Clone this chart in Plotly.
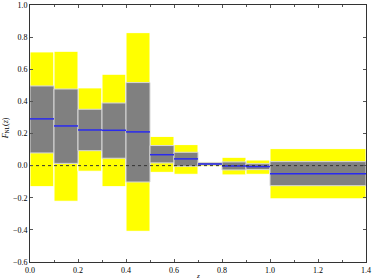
import plotly.graph_objects as go

bin_lo = [0.0, 0.1, 0.2, 0.3, 0.4, 0.5, 0.6, 0.7, 0.8, 0.9, 1.0]
bin_hi = [0.1, 0.2, 0.3, 0.4, 0.5, 0.6, 0.7, 0.8, 0.9, 1.0, 1.4]
outer_hi = [0.708, 0.712, 0.484, 0.569, 0.828, 0.182, 0.131, 0.025, 0.052, 0.035, 0.106]
inner_hi = [0.496, 0.477, 0.351, 0.390, 0.517, 0.125, 0.083, 0.019, 0.023, 0.012, 0.025]
median = [0.291, 0.247, 0.222, 0.220, 0.210, 0.068, 0.042, 0.010, -0.002, -0.006, -0.050]
inner_lo = [0.079, 0.014, 0.093, 0.046, -0.102, 0.017, -0.004, 0.004, -0.027, -0.025, -0.125]
outer_lo = [-0.131, -0.222, -0.035, -0.131, -0.409, -0.042, -0.054, -0.004, -0.058, -0.054, -0.207]

centers = [(a + b) / 2 for a, b in zip(bin_lo, bin_hi)]
widths = [b - a for a, b in zip(bin_lo, bin_hi)]

FONT = "Liberation Serif"
TXT = "#000000"

fig = go.Figure()
fig.add_trace(go.Bar(
    x=centers, y=[h - l for h, l in zip(outer_hi, outer_lo)], base=outer_lo,
    width=widths, marker=dict(color="#ffff00", line=dict(color="#ffffff", width=1)),
    hoverinfo="skip"))
fig.add_trace(go.Bar(
    x=centers, y=[h - l for h, l in zip(inner_hi, inner_lo)], base=inner_lo,
    width=widths, marker=dict(color="#808080", line=dict(color="#d8d8d8", width=1)),
    hoverinfo="skip"))

mx, my = [], []
for a, b, m in zip(bin_lo, bin_hi, median):
    mx += [a, b, None]
    my += [m, m, None]
fig.add_trace(go.Scatter(x=mx, y=my, mode="lines",
                         line=dict(color="#2a2aef", width=1.5)))
fig.add_trace(go.Scatter(x=[0, 1.4], y=[0, 0], mode="lines",
                         line=dict(color="#333333", width=1, dash="dot")))

axis_common = dict(
    showgrid=False, zeroline=False, showline=True, linecolor="#333333",
    linewidth=1, mirror="ticks", ticks="inside", ticklen=3, tickcolor="#555555",
    tickfont=dict(family=FONT, size=8, color=TXT), tickformat=".1f",
    automargin=False,
)

fig.update_layout(
    width=374, height=280, barmode="overlay", showlegend=False,
    plot_bgcolor="white", paper_bgcolor="white",
    font=dict(family=FONT, size=8, color=TXT),
    margin=dict(l=30, r=8, t=5, b=18),
    xaxis=dict(range=[0, 1.4], dtick=0.2, tick0=0,
               minor=dict(dtick=0.1, ticks="inside", ticklen=2, tickcolor="#555555"),
               **axis_common),
    yaxis=dict(range=[-0.6, 1.0], dtick=0.2, tick0=0, **axis_common),
    annotations=[
        dict(text="<i>z</i>", xref="paper", yref="paper", x=0.5, y=0,
             yshift=-8, showarrow=False, font=dict(family=FONT, size=7, color=TXT),
             xanchor="center", yanchor="top"),
        dict(text="<i>F</i><sub>NL</sub>(<i>z</i>)", xref="paper", yref="paper",
             x=0, y=0.52, xshift=-24, showarrow=False, textangle=-90,
             font=dict(family=FONT, size=8, color=TXT),
             xanchor="center", yanchor="middle"),
    ],
)

fig.write_html("out.html", config={"displayModeBar": False},
               post_script="document.body.style.margin='0';")
